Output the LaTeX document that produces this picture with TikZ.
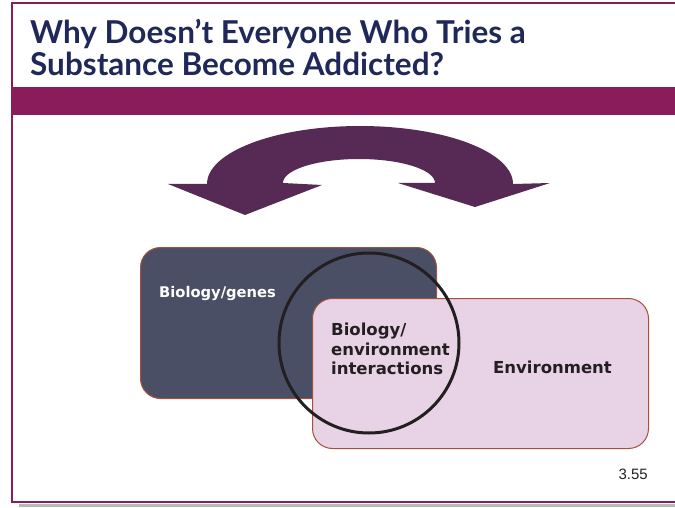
\documentclass[tikz,border=0pt]{standalone}
\usepackage{fontspec}
\setsansfont{DejaVu Sans}
\newfontfamily\headfont{Lato}
\newfontfamily\pagefont{Liberation Sans}
\usetikzlibrary{positioning}
\definecolor{plum}{HTML}{8B1C5B}
\definecolor{titleblue}{HTML}{1F2858}
\definecolor{arch}{HTML}{562A55}
\definecolor{slate}{HTML}{4A4F65}
\definecolor{blush}{HTML}{E8D2E6}
\definecolor{rim}{HTML}{A5503A}
\definecolor{inkk}{HTML}{231F20}

\begin{document}
\begin{tikzpicture}[x=1pt, y=-1pt, font=\sffamily\bfseries,
    zone/.style={rectangle, draw=rim, line width=1pt, rounded corners=20pt,
                 anchor=north west, inner sep=0pt},
    zonetext/.style={anchor=base west, inner sep=0pt,
                     font=\sffamily\bfseries\fontsize{16.5}{19.5}\selectfont}]
  \useasboundingbox (0,0) rectangle (675,508);

  % Slide frame
  \draw[gray!55, line width=3pt] (19,505) -- (675,505);
  \draw[plum, line width=2pt] (11,3.5) -- (675,3.5);
  \draw[plum, line width=2pt] (11.5,3) -- (11.5,502.5);
  \draw[plum, line width=2pt] (11,501.5) -- (675,501.5);
  \fill[plum] (12,87) rectangle (675,115);

  % Title
  \node[anchor=base west, align=left, inner sep=0pt, text=titleblue,
        font=\headfont\bfseries\fontsize{31.5}{32}\selectfont] (title) at (30,76)
        {Why Doesn’t Everyone Who Tries a\\Substance Become Addicted?};

  % Curved double arrow
  \fill[arch] (168,184) -- (207,184)
    arc[start angle=180, end angle=0, x radius=153pt, y radius=58pt]
    -- (550,183) -- (475,207) -- (398,183) -- (435,183)
    arc[start angle=0, end angle=180, x radius=76pt, y radius=24pt]
    -- (322,185) -- (245,215) -- cycle;

  % Overlapping boxes
  \node[zone, fill=slate, minimum width=296pt, minimum height=151pt] (genes) at (140,247) {};
  \node[zone, fill=blush, minimum width=336pt, minimum height=150pt] (env) at (312,298) {};
  \node[circle, draw=inkk, line width=3pt, minimum size=180pt] (mix) at (369,343) {};

  % Labels
  \node[zonetext, text=white, font=\sffamily\bfseries\fontsize{14.7}{18}\selectfont]
        (geneslabel) at (159,297) {Biology/genes};
  \node[zonetext, text=inkk] (mixlabel1) at (331,335) {Biology/};
  \node[zonetext, text=inkk] (mixlabel2) at (331,355) {environment};
  \node[zonetext, text=inkk] (mixlabel3) at (331,374) {interactions};
  \node[zonetext, text=inkk] (envlabel) at (493,373) {Environment};
  \node[anchor=base east, inner sep=0pt, text=inkk,
        font=\pagefont\fontsize{15}{18}\selectfont] (slideno) at (648,479) {3.55};
\end{tikzpicture}
\end{document}
